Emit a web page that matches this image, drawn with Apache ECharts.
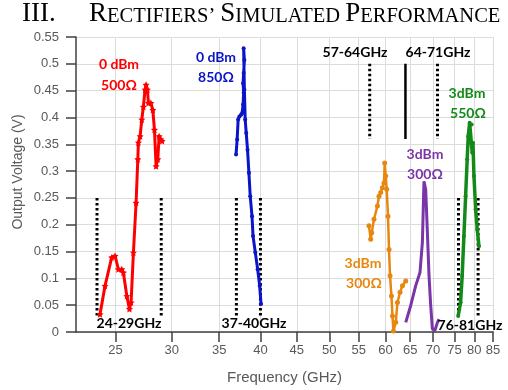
<!DOCTYPE html>
<html>
<head>
<meta charset="utf-8">
<script src="https://cdn.jsdelivr.net/npm/echarts@6/dist/echarts.min.js"></script>
<style>
html,body{margin:0;padding:0;background:#fff;}
#chart{width:508px;height:390px;}
</style>
</head>
<body>
<div id="chart"></div>
<script>
// ---- data (frequency GHz, output voltage V) ----
const xTicks = [25, 30, 35, 40, 45, 50, 55, 60, 65, 70, 75, 80, 85];

const red0dBm500 = [[23.78,0.033],[24.17,0.086],[24.7,0.139],[24.97,0.142],[25.24,0.117],[25.52,0.117],[25.65,0.111],[25.94,0.067],[26.16,0.043],[26.3,0.055],[26.5,0.148],[26.73,0.241],[26.88,0.322],[26.93,0.353],[27.08,0.365],[27.23,0.396],[27.37,0.42],[27.52,0.452],[27.61,0.461],[27.73,0.452],[27.82,0.427],[28.04,0.427],[28.22,0.414],[28.37,0.377],[28.52,0.309],[28.68,0.322],[28.8,0.365],[28.96,0.359],[29.08,0.356]];

const blue0dBm850 = [[36.96,0.331],[37.09,0.359],[37.21,0.396],[37.36,0.402],[37.57,0.405],[37.69,0.408],[37.81,0.424],[37.88,0.446],[37.81,0.464],[37.88,0.483],[37.97,0.507],[37.88,0.529],[37.97,0.452],[38.07,0.396],[38.2,0.371],[38.36,0.34],[38.53,0.297],[38.7,0.253],[38.92,0.216],[39.05,0.179],[39.34,0.148],[39.64,0.117],[39.9,0.086],[40.08,0.052]];

const orange3dBm300 = [[56.86,0.198],[57.18,0.173],[57.37,0.185],[57.79,0.21],[58.44,0.235],[58.74,0.253],[59.07,0.26],[59.39,0.269],[59.7,0.278],[59.84,0.315],[60.03,0.291],[60.23,0.266],[60.48,0.216],[60.68,0.154],[60.88,0.105],[61.16,0.067],[61.36,0.03],[61.56,0.002],[62.02,0.018],[62.36,0.055],[62.89,0.074],[63.38,0.086],[64.06,0.095]];

const purple3dBm300 = [[64.06,0.018],[65.09,0.049],[66.15,0.086],[67.09,0.111],[67.61,0.167],[67.96,0.281],[68.34,0.266],[68.72,0.185],[69.08,0.105],[69.46,0.049],[69.84,0.006],[70.37,0.002],[70.99,0.018],[71.36,0.024]];

const green3dBm550 = [[75.93,0.03],[76.52,0.055],[76.92,0.105],[77.35,0.179],[77.78,0.253],[78.18,0.322],[78.44,0.365],[78.8,0.39],[79.31,0.387],[79.47,0.334],[79.65,0.353],[79.91,0.291],[80.35,0.229],[80.77,0.191],[81.22,0.16]];

// band-edge markers
const lowBandEdges = [23.55, 29, 37, 40, 76, 81];
const lowBandRange = [0.25, 0.03];
const upperBandEdges = [57, 71];
const upperBandSolid = [64];
const upperBandRange = [0.5, 0.36];

const chart = echarts.init(document.getElementById('chart'), null, {renderer: 'canvas'});

const axisColor = '#404040';
const labelColor = '#595959';
const sansFont = 'Liberation Sans';
const annFont = 'bold 14px Lato';

function edgeSeries(f, range, solid) {
  return {
    type: 'line', silent: true, symbol: 'none', animation: false, z: 1,
    data: [[f, range[0]], [f, range[1]]],
    lineStyle: { color: '#000', width: solid ? 2.5 : 3, type: solid ? 'solid' : [2.5, 2.5] }
  };
}

const starPath = 'path://M0,-10L2.9,-4L9.5,-3.1L4.7,1.5L5.9,8.1L0,5L-5.9,8.1L-4.7,1.5L-9.5,-3.1L-2.9,-4Z';

const series = [];
lowBandEdges.forEach(f => series.push(edgeSeries(f, lowBandRange, false)));
upperBandEdges.forEach(f => series.push(edgeSeries(f, upperBandRange, false)));
upperBandSolid.forEach(f => series.push(edgeSeries(f, upperBandRange, true)));

series.push({
  type: 'line', data: red0dBm500, symbol: starPath, symbolSize: 7, showAllSymbol: true,
  lineStyle: { color: '#ff0000', width: 3 }, itemStyle: { color: '#ff0000' }, animation: false, z: 3
});
series.push({
  type: 'line', data: blue0dBm850, symbol: 'circle', symbolSize: 4, showAllSymbol: true,
  lineStyle: { color: '#0a14c8', width: 3 }, itemStyle: { color: '#0a14c8' }, animation: false, z: 3
});
series.push({
  type: 'line', data: orange3dBm300, symbol: 'circle', symbolSize: 5, showAllSymbol: true,
  lineStyle: { color: '#e8870f', width: 2.5 }, itemStyle: { color: '#e8870f' }, animation: false, z: 3
});
series.push({
  type: 'line', data: purple3dBm300, symbol: 'none',
  lineStyle: { color: '#7a35a8', width: 3 }, animation: false, z: 3
});
series.push({
  type: 'line', data: green3dBm550, symbol: 'circle', symbolSize: 4, showAllSymbol: true,
  lineStyle: { color: '#138a18', width: 3.5 }, itemStyle: { color: '#138a18' }, animation: false, z: 3
});

function txt(x, y, text, color) {
  return { type: 'text', x: x, y: y, z: 10,
    style: { text: text, fill: color, font: annFont, align: 'center', verticalAlign: 'middle' } };
}

const option = {
  backgroundColor: '#fff',
  animation: false,
  grid: { left: 76, right: 15, top: 37, bottom: 57 },
  xAxis: {
    type: 'log', logBase: 10, min: 22, max: 85,
    axisLine: { show: true, onZero: false, lineStyle: { color: axisColor, width: 1.5 } },
    axisTick: { show: true, customValues: xTicks, length: 10, inside: false, lineStyle: { color: axisColor, width: 1.5 } },
    axisLabel: { customValues: xTicks, color: labelColor, fontSize: 13, fontFamily: sansFont, margin: 12 },
    splitLine: { show: true, lineStyle: { color: '#dcdcdc', width: 1 } },
    minorTick: { show: false }, minorSplitLine: { show: false },
    name: 'Frequency (GHz)', nameLocation: 'middle', nameGap: 38,
    nameTextStyle: { color: labelColor, fontSize: 15, fontFamily: sansFont }
  },
  yAxis: {
    type: 'value', min: 0, max: 0.55, interval: 0.05,
    axisLine: { show: true, lineStyle: { color: axisColor, width: 1.5 } },
    axisTick: { show: true, length: 10, inside: false, lineStyle: { color: axisColor, width: 1.5 } },
    axisLabel: { color: labelColor, fontSize: 13, fontFamily: sansFont, margin: 17 },
    splitLine: { show: true, lineStyle: { color: '#dcdcdc', width: 1 } }
  },
  series: series,
  graphic: [
    { type: 'text', x: 22, y: 27, z: 10,
      style: { text: 'III.', fill: '#000', font: '27px "Liberation Serif"', align: 'left', verticalAlign: 'bottom' } },
    { type: 'text', x: 89, y: 27, z: 10,
      style: {
        text: '{b|R}{s|ECTIFIERS’} {b|S}{s|IMULATED} {b|P}{s|ERFORMANCE}',
        align: 'left', verticalAlign: 'bottom',
        font: '20.5px "Liberation Serif"', fill: '#000',
        rich: {
          b: { fontSize: 27, fontFamily: 'Liberation Serif', fill: '#000', verticalAlign: 'bottom' },
          s: { fontSize: 20.5, fontFamily: 'Liberation Serif', fill: '#000', verticalAlign: 'bottom' }
        }
      } },
    { type: 'text', x: 18, y: 172, rotation: Math.PI / 2, z: 10,
      style: { text: 'Output Voltage (V)', fill: labelColor, font: '14px "Liberation Sans"', align: 'center', verticalAlign: 'middle' } },
    txt(119, 64, '0 dBm', '#ff0000'),
    txt(119, 85, '500Ω', '#ff0000'),
    txt(216, 57, '0 dBm', '#0a14c8'),
    txt(216, 77, '850Ω', '#0a14c8'),
    txt(355, 52, '57-64GHz', '#000'),
    txt(438, 52, '64-71GHz', '#000'),
    txt(467, 93, '3dBm', '#138a18'),
    txt(468, 113, '550Ω', '#138a18'),
    txt(425, 154, '3dBm', '#7a35a8'),
    txt(425, 174, '300Ω', '#7a35a8'),
    txt(363, 263, '3dBm', '#e8870f'),
    txt(364, 283, '300Ω', '#e8870f'),
    txt(129, 323, '24-29GHz', '#000'),
    txt(254, 323, '37-40GHz', '#000'),
    txt(470, 325, '76-81GHz', '#000')
  ]
};
chart.setOption(option);
</script>
</body>
</html>
